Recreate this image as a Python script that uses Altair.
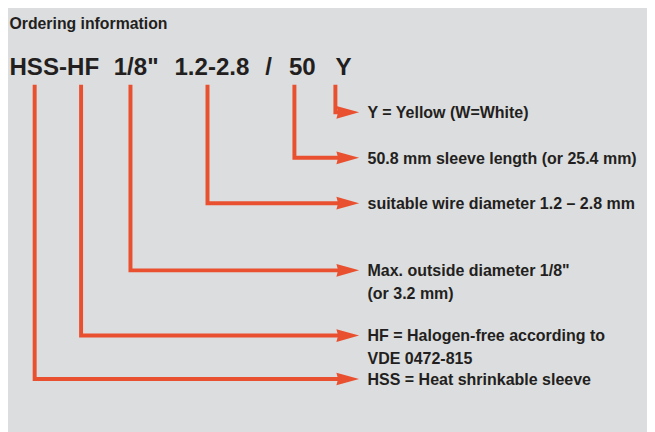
import altair as alt
import pandas as pd

# ---- content ----
title_text = "Ordering information"
code_tokens = ["HSS-HF", "1/8\"", "1.2-2.8", "/", "50", "Y"]
code_token_x = [9.5, 115, 176.5, 268.5, 292.5, 339.5]

# connectors: vertical start under the code, arrow row, label lines
line_x = [339.5, 298, 210, 132, 82, 35]
arrow_y = [111, 157, 203, 271, 337, 381]
labels = [
    ["Y = Yellow (W=White)"],
    ["50.8 mm sleeve length (or 25.4 mm)"],
    ["suitable wire diameter 1.2 \u2013 2.8 mm"],
    ["Max. outside diameter 1/8\"", "(or 3.2 mm)"],
    ["HF = Halogen-free according to", "VDE 0472-815"],
    ["HSS = Heat shrinkable sleeve"],
]

# ---- layout / style ----
W, H = 647, 424
X0, Y0 = 8, 8
LINE_TOP = 83
SHAFT_END = 346
TIP_X = 363.5
HEAD_LEN = 23
LABEL_X = 372
LINE_GAP = 23
RED = "#e9502f"
INK = "#231f20"
BG = "#dcdddf"
FONT = "Liberation Sans"

xs = alt.Scale(domain=[X0, X0 + W], nice=False, zero=False)
ys = alt.Scale(domain=[Y0, Y0 + H], nice=False, zero=False, reverse=True)

# path points for the connectors
rows = []
for i, (lx, ay) in enumerate(zip(line_x, arrow_y)):
    rows.append({"item": i, "ord": 0, "x": lx, "y": LINE_TOP})
    rows.append({"item": i, "ord": 1, "x": lx, "y": ay})
    rows.append({"item": i, "ord": 2, "x": SHAFT_END, "y": ay})
paths = pd.DataFrame(rows)

heads = pd.DataFrame({"x": [TIP_X - HEAD_LEN / 2] * len(arrow_y), "y": arrow_y})

label_rows = []
for ay, lines in zip(arrow_y, labels):
    for k, t in enumerate(lines):
        label_rows.append({"x": LABEL_X, "y": ay + 5.8 + k * LINE_GAP, "t": t})
label_df = pd.DataFrame(label_rows)

code_df = pd.DataFrame({"x": code_token_x, "y": [73] * len(code_tokens), "t": code_tokens})
title_df = pd.DataFrame({"x": [9.5], "y": [26.5], "t": [title_text]})

def X(f="x"):
    return alt.X(f"{f}:Q", scale=xs, axis=None)

def Y(f="y"):
    return alt.Y(f"{f}:Q", scale=ys, axis=None)

connectors = alt.Chart(paths).mark_line(
    color=RED, strokeWidth=4, strokeJoin="miter", strokeCap="butt"
).encode(x=X(), y=Y(), detail="item:N", order="ord:Q")

arrowheads = alt.Chart(heads).mark_point(
    shape="M -1 -0.56 L 1 0 L -1 0.56 L -0.85 0 Z",
    size=HEAD_LEN * HEAD_LEN, filled=True, color=RED, opacity=1, strokeWidth=0
).encode(x=X(), y=Y())

label_text = alt.Chart(label_df).mark_text(
    align="left", baseline="alphabetic", font=FONT, fontWeight="bold",
    fontSize=16.2, color=INK
).encode(x=X(), y=Y(), text="t:N")

code_text = alt.Chart(code_df).mark_text(
    align="left", baseline="alphabetic", font=FONT, fontWeight="bold",
    fontSize=24.4, color=INK
).encode(x=X(), y=Y(), text="t:N")

title = alt.Chart(title_df).mark_text(
    align="left", baseline="alphabetic", font=FONT, fontWeight="bold",
    fontSize=16, color=INK
).encode(x=X(), y=Y(), text="t:N")

chart = alt.layer(connectors, arrowheads, label_text, code_text, title).properties(
    width=W, height=H, padding=0, autosize="none", background=BG
).configure_view(stroke=None)

chart.save("out.html", embed_options={"renderer": "svg", "actions": False})
